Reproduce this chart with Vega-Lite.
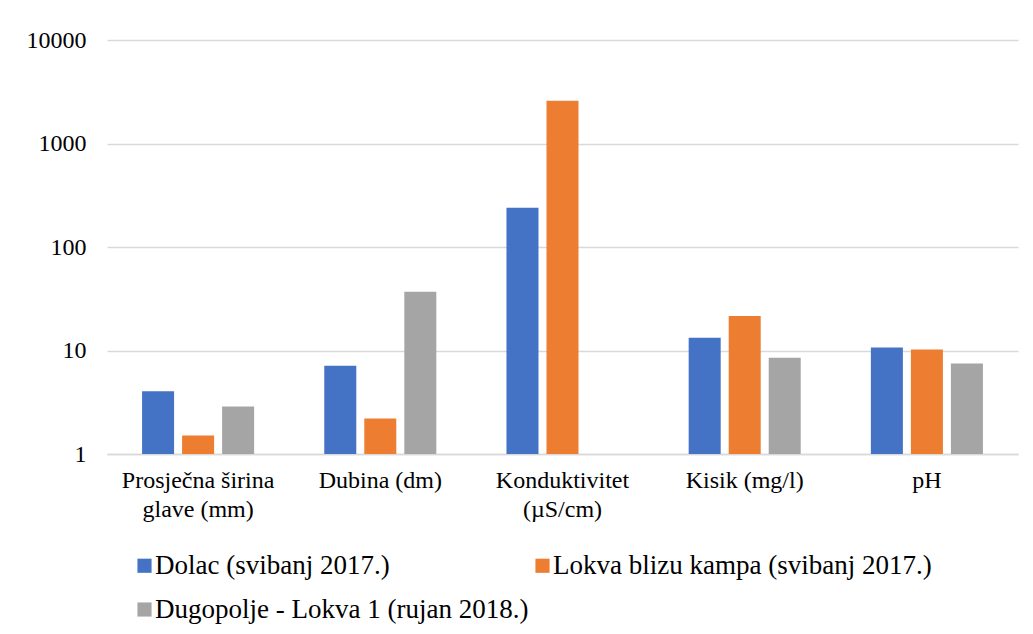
{
  "$schema": "https://vega.github.io/schema/vega-lite/v6.json",
  "autosize": {"type": "none"},
  "padding": {"left": 107, "top": 40, "right": 15, "bottom": 180},
  "width": 911,
  "height": 414,
  "background": "white",
  "config": {
    "view": {"stroke": null},
    "font": "Liberation Serif, Times New Roman, serif"
  },
  "data": {
    "values": [
      {"kategorija": "Prosječna širina glave (mm)", "lokalitet": "Dolac (svibanj 2017.)", "vrijednost": 4.03},
      {"kategorija": "Prosječna širina glave (mm)", "lokalitet": "Lokva blizu kampa (svibanj 2017.)", "vrijednost": 1.51},
      {"kategorija": "Prosječna širina glave (mm)", "lokalitet": "Dugopolje - Lokva 1 (rujan 2018.)", "vrijednost": 2.87},
      {"kategorija": "Dubina (dm)", "lokalitet": "Dolac (svibanj 2017.)", "vrijednost": 7.13},
      {"kategorija": "Dubina (dm)", "lokalitet": "Lokva blizu kampa (svibanj 2017.)", "vrijednost": 2.2},
      {"kategorija": "Dubina (dm)", "lokalitet": "Dugopolje - Lokva 1 (rujan 2018.)", "vrijednost": 37},
      {"kategorija": "Konduktivitet (µS/cm)", "lokalitet": "Dolac (svibanj 2017.)", "vrijednost": 239},
      {"kategorija": "Konduktivitet (µS/cm)", "lokalitet": "Lokva blizu kampa (svibanj 2017.)", "vrijednost": 2595},
      {"kategorija": "Kisik (mg/l)", "lokalitet": "Dolac (svibanj 2017.)", "vrijednost": 13.3},
      {"kategorija": "Kisik (mg/l)", "lokalitet": "Lokva blizu kampa (svibanj 2017.)", "vrijednost": 21.5},
      {"kategorija": "Kisik (mg/l)", "lokalitet": "Dugopolje - Lokva 1 (rujan 2018.)", "vrijednost": 8.5},
      {"kategorija": "pH", "lokalitet": "Dolac (svibanj 2017.)", "vrijednost": 10.7},
      {"kategorija": "pH", "lokalitet": "Lokva blizu kampa (svibanj 2017.)", "vrijednost": 10.2},
      {"kategorija": "pH", "lokalitet": "Dugopolje - Lokva 1 (rujan 2018.)", "vrijednost": 7.5}
    ]
  },
  "mark": {"type": "bar"},
  "encoding": {
    "x": {
      "field": "kategorija",
      "type": "nominal",
      "sort": ["Prosječna širina glave (mm)", "Dubina (dm)", "Konduktivitet (µS/cm)", "Kisik (mg/l)", "pH"],
      "scale": {"paddingInner": 0.385, "paddingOuter": 0.1925},
      "axis": {
        "title": null,
        "labelAngle": 0,
        "labelFont": "Liberation Serif, Times New Roman, serif",
        "labelFontSize": 24,
        "labelColor": "#000000",
        "labelLineHeight": 29,
        "labelPadding": 14,
        "labelLimit": 300,
        "ticks": false,
        "domainColor": "#d9d9d9",
        "domainWidth": 1.5,
        "labelExpr": "datum.value == 'Prosječna širina glave (mm)' ? ['Prosječna širina', 'glave (mm)'] : datum.value == 'Konduktivitet (µS/cm)' ? ['Konduktivitet', '(µS/cm)'] : datum.value"
      }
    },
    "xOffset": {
      "field": "lokalitet",
      "type": "nominal",
      "sort": ["Dolac (svibanj 2017.)", "Lokva blizu kampa (svibanj 2017.)", "Dugopolje - Lokva 1 (rujan 2018.)"],
      "scale": {"paddingInner": 0.2, "paddingOuter": 0}
    },
    "y": {
      "field": "vrijednost",
      "type": "quantitative",
      "stack": null,
      "scale": {"type": "log", "domain": [1, 10000], "nice": false},
      "axis": {
        "title": null,
        "values": [1, 10, 100, 1000, 10000],
        "format": "d",
        "labelFont": "Liberation Serif, Times New Roman, serif",
        "labelFontSize": 24,
        "labelColor": "#000000",
        "labelPadding": 21,
        "ticks": false,
        "domain": false,
        "gridColor": "#d9d9d9",
        "gridWidth": 1.5
      }
    },
    "y2": {"datum": 1},
    "color": {
      "field": "lokalitet",
      "type": "nominal",
      "sort": ["Dolac (svibanj 2017.)", "Lokva blizu kampa (svibanj 2017.)", "Dugopolje - Lokva 1 (rujan 2018.)"],
      "scale": {
        "range": ["#4472C4", "#ED7D31", "#A5A5A5"]
      },
      "legend": {
        "title": null,
        "orient": "none",
        "direction": "horizontal",
        "legendX": 24,
        "legendY": 512,
        "columns": 2,
        "columnPadding": -8,
        "rowPadding": 16,
        "symbolType": "square",
        "symbolSize": 200,
        "symbolStrokeWidth": 0,
        "labelFont": "Liberation Serif, Times New Roman, serif",
        "labelFontSize": 27,
        "labelColor": "#000000",
        "labelOffset": -3,
        "labelLimit": 500
      }
    }
  }
}
